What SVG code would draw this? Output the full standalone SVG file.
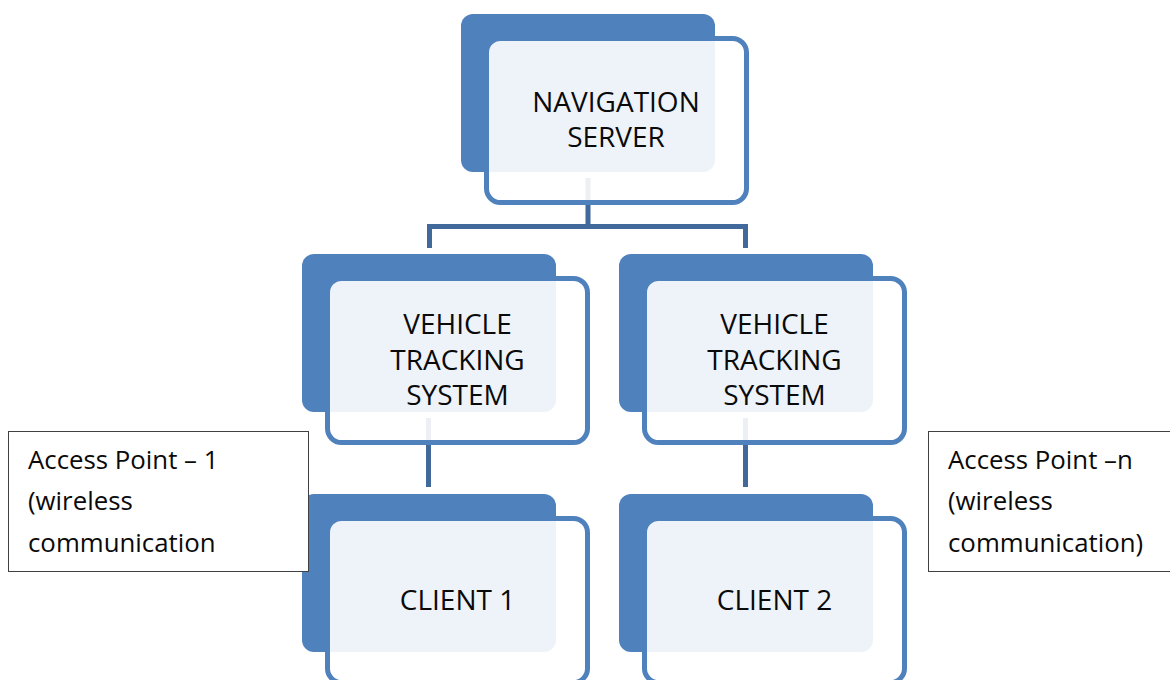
<svg xmlns="http://www.w3.org/2000/svg" width="1170" height="680" viewBox="0 0 1170 680">
  <style>
    .back { fill: #4F81BD; }
    .front { fill: #FFFFFF; fill-opacity: 0.9; stroke: #4F81BD; stroke-width: 5; }
    .label { font-family: "Open Sans", "Liberation Sans", sans-serif; font-size: 28px; fill: #0A0A0A; text-anchor: middle; }
    .note { fill: #FFFFFF; stroke: #404040; stroke-width: 1; }
    .note-text { font-family: "Open Sans", "Liberation Sans", sans-serif; font-size: 25.8px; fill: #0A0A0A; }
    .link { fill: none; stroke: #41699C; stroke-width: 5; }
  </style>
  <rect width="1170" height="680" fill="#FFFFFF"/>

  <!-- connectors -->
  <g id="connectors">
    <path class="link" d="M588,178 V226.5 M429.5,248 V226.5 H745.5 V248"/>
    <path class="link" d="M428.5,418 V487"/>
    <path class="link" d="M745.5,418 V487"/>
  </g>

  <g id="navigation-server">
    <rect class="back" x="461" y="14" width="254" height="158" rx="12"/>
    <rect class="front" x="486.5" y="38.5" width="260" height="164" rx="14"/>
    <text class="label" x="616" y="112">NAVIGATION</text>
    <text class="label" x="616" y="147">SERVER</text>
  </g>

  <g id="vehicle-tracking-1">
    <rect class="back" x="302" y="254" width="254" height="158" rx="12"/>
    <rect class="front" x="327.5" y="278.5" width="260" height="164" rx="14"/>
    <text class="label" x="457.5" y="334">VEHICLE</text>
    <text class="label" x="457.5" y="370">TRACKING</text>
    <text class="label" x="457.5" y="405">SYSTEM</text>
  </g>

  <g id="vehicle-tracking-2">
    <rect class="back" x="619" y="254" width="254" height="158" rx="12"/>
    <rect class="front" x="644.5" y="278.5" width="260" height="164" rx="14"/>
    <text class="label" x="774.5" y="334">VEHICLE</text>
    <text class="label" x="774.5" y="370">TRACKING</text>
    <text class="label" x="774.5" y="405">SYSTEM</text>
  </g>

  <g id="client-1">
    <rect class="back" x="302" y="494" width="254" height="158" rx="12"/>
    <rect class="front" x="327.5" y="518.5" width="260" height="164" rx="14"/>
    <text class="label" x="457.5" y="610">CLIENT 1</text>
  </g>

  <g id="client-2">
    <rect class="back" x="619" y="494" width="254" height="158" rx="12"/>
    <rect class="front" x="644.5" y="518.5" width="260" height="164" rx="14"/>
    <text class="label" x="774.5" y="610">CLIENT 2</text>
  </g>

  <g id="access-point-1">
    <rect class="note" x="8.5" y="431.5" width="300" height="140"/>
    <text class="note-text" x="28" y="469">Access Point – 1</text>
    <text class="note-text" x="28" y="510">(wireless</text>
    <text class="note-text" x="28" y="552">communication</text>
  </g>

  <g id="access-point-n">
    <rect class="note" x="928.5" y="431.5" width="260" height="140"/>
    <text class="note-text" x="948" y="469">Access Point –n</text>
    <text class="note-text" x="948" y="510">(wireless</text>
    <text class="note-text" x="948" y="552">communication)</text>
  </g>
</svg>
